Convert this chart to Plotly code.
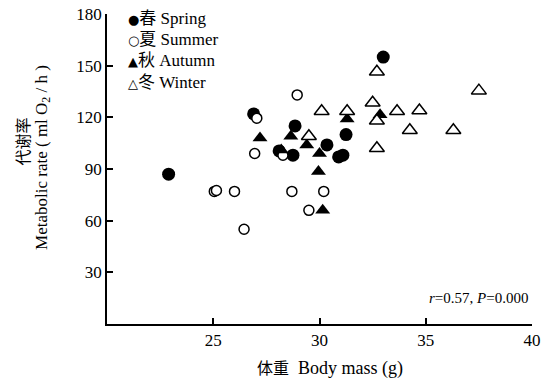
import plotly.graph_objects as go

# ---- data ----
spring_x = [22.9, 26.9, 28.85, 30.35, 31.25, 30.9, 31.1, 28.75, 33.0, 28.1]
spring_y = [87, 122, 115, 104, 110, 97, 98, 98, 155, 100.5]

summer_x = [25.05, 25.15, 26.0, 26.45, 27.05, 26.95, 28.95, 28.7, 30.2, 29.5, 28.28]
summer_y = [77, 77.5, 77, 55, 119.5, 99, 133, 77, 77, 66, 98]

autumn_x = [27.2, 28.65, 28.2, 29.4, 30.0, 29.95, 30.15, 31.3, 32.85]
autumn_y = [108, 109, 101, 104, 99, 88.5, 66, 119, 121.5]

winter_x = [30.1, 31.3, 29.5, 32.7, 32.5, 32.7, 33.65, 34.7, 34.25, 36.3, 37.5, 32.7]
winter_y = [123.5, 123.5, 109, 146.5, 128.5, 118, 123.5, 124, 112.5, 112.5, 135.5, 102]

x_ticks = [25, 30, 35, 40]
y_ticks = [30, 60, 90, 120, 150, 180]

season_names = ["春 Spring", "夏 Summer", "秋 Autumn", "冬 Winter"]
season_glyphs = ["●", "○", "▲", "△"]

SERIF = "Liberation Serif, Times New Roman, Noto Sans CJK SC, serif"
CJK = "Noto Sans CJK SC"

fig = go.Figure()
fig.add_trace(go.Scatter(x=spring_x, y=spring_y, mode="markers", name=season_names[0],
                         marker=dict(symbol="circle", size=13, color="black",
                                     line=dict(width=0))))
fig.add_trace(go.Scatter(x=summer_x, y=summer_y, mode="markers", name=season_names[1],
                         marker=dict(symbol="circle", size=10, color="white",
                                     line=dict(width=1.5, color="black"))))
fig.add_trace(go.Scatter(x=autumn_x, y=autumn_y, mode="markers", name=season_names[2],
                         marker=dict(symbol="triangle-up", size=13, color="black",
                                     line=dict(width=0))))
fig.add_trace(go.Scatter(x=winter_x, y=winter_y, mode="markers", name=season_names[3],
                         marker=dict(symbol="triangle-up", size=13, color="white",
                                     line=dict(width=1.5, color="black"))))

fig.update_layout(
    width=555, height=379,
    margin=dict(l=99, r=31, t=6, b=63),
    plot_bgcolor="white", paper_bgcolor="white",
    font=dict(family=SERIF, size=17, color="black"),
    showlegend=False,
)
fig.update_xaxes(range=[20, 40], tickvals=x_ticks, ticks="inside", ticklen=6,
                 tickwidth=1.5, tickcolor="black", showline=True, linecolor="black",
                 linewidth=1.5, showgrid=False, zeroline=False, automargin=False,
                 ticklabeloverflow="allow", tickfont=dict(family=SERIF, size=17))
fig.update_yaxes(range=[0, 180], tickvals=y_ticks, ticks="inside", ticklen=6,
                 tickwidth=1.5, tickcolor="black", showline=True, linecolor="black",
                 linewidth=1.5, showgrid=False, zeroline=False, automargin=False,
                 ticklabeloverflow="allow", tickfont=dict(family=SERIF, size=17))

# legend (text entries with their symbol glyphs)
for i, (g, name) in enumerate(zip(season_glyphs, season_names)):
    fig.add_annotation(
        text=f"<span style='font-family:DejaVu Sans;font-size:13px'>{g}</span>{name}",
        xref="paper", yref="paper", x=0.044, y=0.986 - i * 0.0687,
        xanchor="left", yanchor="middle", showarrow=False,
        font=dict(family=SERIF, size=17))

# axis titles
fig.add_annotation(text="<span style='font-family:Noto Sans CJK SC;font-size:16px'>体重</span>  Body mass (g)",
                   xref="paper", yref="paper", x=0.525, y=-0.138,
                   xanchor="center", yanchor="middle", showarrow=False,
                   font=dict(family=SERIF, size=18))
fig.add_annotation(text="代谢率", xref="paper", yref="paper", x=-0.199, y=0.590,
                   textangle=-90, showarrow=False, xanchor="center", yanchor="middle",
                   font=dict(family=CJK, size=16))
fig.add_annotation(text="Metabolic rate ( ml O<sub>2</sub> / h )", xref="paper", yref="paper",
                   x=-0.152, y=0.537, textangle=-90, showarrow=False,
                   xanchor="center", yanchor="middle", font=dict(family=SERIF, size=17))
fig.add_annotation(text="<i>r</i>=0.57, <i>P</i>=0.000", xref="paper", yref="paper",
                   x=0.995, y=0.084, showarrow=False, xanchor="right", yanchor="middle",
                   font=dict(family=SERIF, size=15))

fig.write_html("out.html")
